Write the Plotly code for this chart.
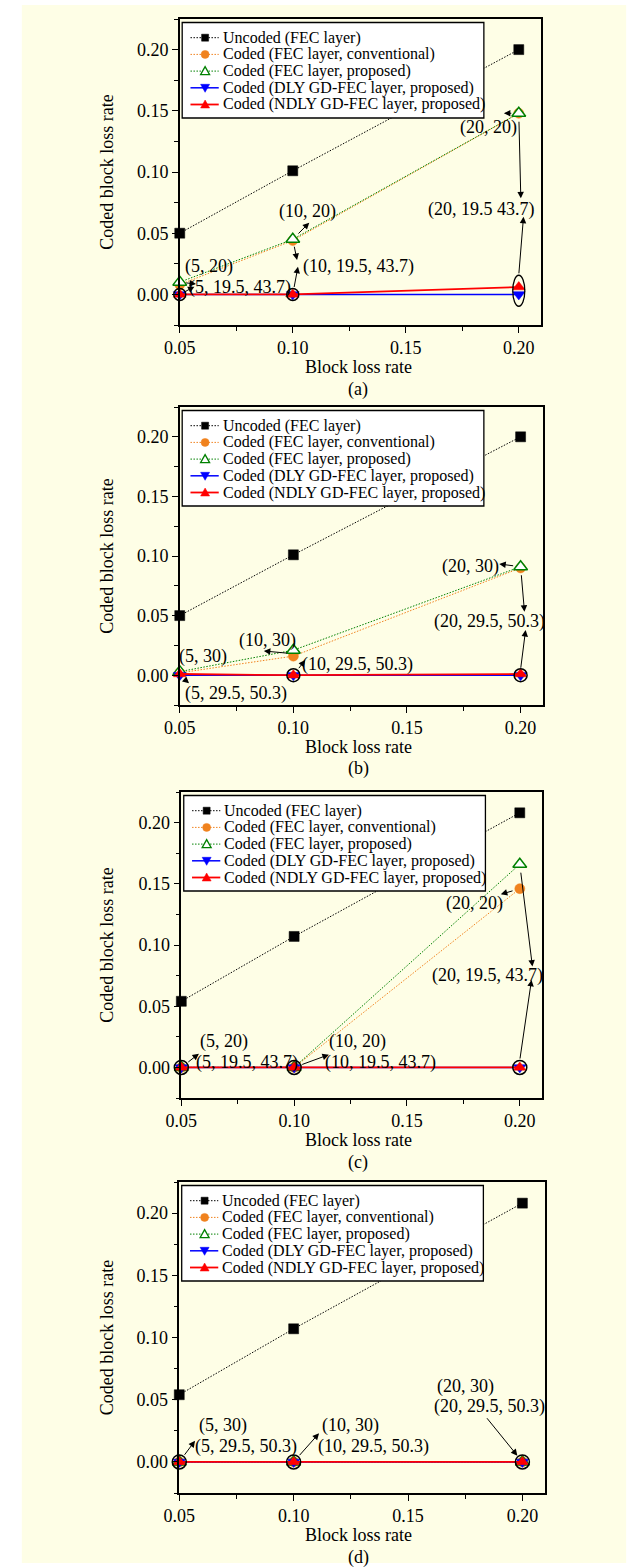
import plotly.graph_objects as go

W, H = 633, 1568
FONT = "Liberation Serif"

# ---------------- data ----------------
x_vals = [0.05, 0.10, 0.20]
series_names = [
    "Uncoded (FEC layer)",
    "Coded (FEC layer, conventional)",
    "Coded (FEC layer, proposed)",
    "Coded (DLY GD-FEC layer, proposed)",
    "Coded (NDLY GD-FEC layer, proposed)",
]
panel_labels = ["(a)", "(b)", "(c)", "(d)"]
x_title = "Block loss rate"
y_title = "Coded block loss rate"
x_ticks = [0.05, 0.10, 0.15, 0.20]
y_ticks = [0.00, 0.05, 0.10, 0.15, 0.20]

a_uncoded = [0.050, 0.101, 0.200]
a_conv = [0.008, 0.044, 0.148]
a_prop = [0.010, 0.045, 0.148]
a_dly = [0.0, 0.0, 0.0]
a_ndly = [0.0, 0.0, 0.006]

b_uncoded = [0.050, 0.101, 0.200]
b_conv = [0.002, 0.016, 0.090]
b_prop = [0.003, 0.021, 0.091]
b_dly = [0.0, 0.0, 0.0]
b_ndly = [0.001, 0.0, 0.001]

c_uncoded = [0.054, 0.107, 0.208]
c_conv = [0.0, 0.0, 0.146]
c_prop = [0.0, 0.0, 0.166]
c_dly = [0.0, 0.0, 0.0]
c_ndly = [0.0, 0.0, 0.0]

d_uncoded = [0.054, 0.107, 0.208]
d_conv = [0.0, 0.0, 0.0]
d_prop = [0.0, 0.0, 0.0]
d_dly = [0.0, 0.0, 0.0]
d_ndly = [0.0, 0.0, 0.0]

panel_series = [
    [a_uncoded, a_conv, a_prop, a_dly, a_ndly],
    [b_uncoded, b_conv, b_prop, b_dly, b_ndly],
    [c_uncoded, c_conv, c_prop, c_dly, c_ndly],
    [d_uncoded, d_conv, d_prop, d_dly, d_ndly],
]

# indices of points circled (on the GD-FEC curves)
circled_idx = [[0, 1], [1, 2], [0, 1, 2], [0, 1, 2]]

# text labels: (text, x, y) in data units
labels = [
    [("(20, 20)", 0.1865, 0.1362), ("(20, 19.5 43.7)", 0.1833, 0.0695),
     ("(10, 20)", 0.1065, 0.0676), ("(10, 19.5, 43.7)", 0.1292, 0.0226),
     ("(5, 20)", 0.0628, 0.0226), ("(5, 19.5, 43.7)", 0.0767, 0.0060)],
    [("(20, 30)", 0.1778, 0.0916), ("(20, 29.5, 50.3)", 0.1862, 0.0449),
     ("(10, 30)", 0.0886, 0.0295), ("(10, 29.5, 50.3)", 0.1281, 0.0094),
     ("(5, 30)", 0.0603, 0.0155), ("(5, 29.5, 50.3)", 0.0748, -0.0152)],
    [("(20, 20)", 0.1798, 0.1340), ("(20, 19.5, 43.7)", 0.1858, 0.0748),
     ("(10, 20)", 0.1279, 0.0213), ("(10, 19.5, 43.7)", 0.1383, 0.0036),
     ("(5, 20)", 0.0687, 0.0213), ("(5, 19.5, 43.7)", 0.0791, 0.0036)],
    [("(20, 30)", 0.1750, 0.0605), ("(20, 29.5, 50.3)", 0.1855, 0.0444),
     ("(10, 30)", 0.1248, 0.0296), ("(10, 29.5, 50.3)", 0.1350, 0.0127),
     ("(5, 30)", 0.0692, 0.0296), ("(5, 29.5, 50.3)", 0.0792, 0.0127)],
]

# arrows: (tail_x, tail_y, head_x, head_y, start_standoff, standoff)
arrows = [
    [(0.20, 0.148, 0.1934, 0.148, 6, 0), (0.20, 0.148, 0.2009, 0.0785, 7, 0),
     (0.20, 0.016, 0.2021, 0.0635, 0, 0), (0.10, 0.045, 0.1073, 0.0586, 6, 0),
     (0.10, 0.045, 0.1019, 0.0281, 6, 0), (0.10, 0.0, 0.1023, 0.0226, 6, 0),
     (0.05, 0.0, 0.0565, 0.0063, 4, 0), (0.05, 0.010, 0.0572, 0.0085, 5, 0)],
    [(0.20, 0.091, 0.1906, 0.0933, 6, 0), (0.20, 0.091, 0.2017, 0.0533, 7, 0),
     (0.20, 0.005, 0.2022, 0.0379, 0, 0), (0.10, 0.018, 0.0870, 0.0203, 5, 0),
     (0.10, 0.0, 0.1052, 0.0127, 7, 0), (0.05, 0.0, 0.0541, -0.0068, 5, 0)],
    [(0.20, 0.146, 0.1916, 0.1414, 6, 0), (0.20, 0.166, 0.2056, 0.0824, 7, 0),
     (0.20, 0.006, 0.2052, 0.0715, 0, 0), (0.10, 0.0, 0.1154, 0.0104, 7, 0),
     (0.05, 0.0, 0.0578, 0.0112, 7, 0)],
    [(0.1840, 0.0363, 0.20, 0.0, 0, 8), (0.10, 0.0, 0.1111, 0.0230, 7, 0),
     (0.05, 0.0, 0.0569, 0.0170, 7, 0)],
]

# ---------------- styling ----------------
colors = ["#000000", "#F0821E", "#008000", "#0000FF", "#FF0000"]
dashes = ["1.5px,1.5px", "1.5px,1.5px", "1.5px,1.5px", "solid", "solid"]
widths = [1, 1, 1, 1.5, 1.8]
symbols = ["square", "circle", "triangle-up", "triangle-down", "triangle-up"]
mfill = ["#000000", "#F0821E", "#FFFFFF", "#0000FF", "#FF0000"]
msizes = [10, 10, 12, 11, 11]
circle_sizes = [12, 13, 14, 14]

# panel plot-area geometry in pixels (left, right, top, bottom)
geom = [
    (168, 539, 19, 325),
    (168, 541, 407, 705),
    (169.6, 540, 792, 1098),
    (167.5, 543, 1182, 1493),
]
XR = [0.05, 0.21]
YR = [-0.025, 0.225]


def px(x):
    return x / W


def py(y):
    return 1 - y / H


fig = go.Figure()
shapes = []
annotations = []

# page background
shapes.append(dict(type="rect", xref="paper", yref="paper", x0=px(6), x1=px(626),
                   y0=py(1563), y1=py(5), fillcolor="#FEFEE6", line=dict(width=0),
                   layer="below"))

tickfont = dict(family=FONT, size=18, color="black")
txtcol = "#000000"

for i, (L, R, T, B) in enumerate(geom):
    n = i + 1
    xs = "" if n == 1 else str(n)
    xa, ya = "x" + xs, "y" + xs
    series = panel_series[i]
    for j in range(5):
        fig.add_trace(go.Scatter(
            x=x_vals, y=series[j], xaxis=xa, yaxis=ya, mode="lines+markers",
            name=series_names[j], showlegend=False, cliponaxis=False,
            line=dict(color=colors[j], width=widths[j], dash=dashes[j]),
            marker=dict(symbol=symbols[j], size=msizes[j], color=mfill[j],
                        line=dict(color=colors[j], width=1.5 if j == 2 else 0.5)),
        ))
    # circled highlight points
    cx = [x_vals[k] for k in circled_idx[i]]
    cy = [series[3][k] for k in circled_idx[i]]
    fig.add_trace(go.Scatter(
        x=cx, y=cy, xaxis=xa, yaxis=ya, mode="markers", showlegend=False,
        cliponaxis=False, hoverinfo="skip",
        marker=dict(symbol="circle-open", size=circle_sizes[i], color="black",
                    line=dict(color="black", width=1.5)),
    ))

    dom_x = [px(L), px(R)]
    dom_y = [py(B), py(T)]
    common = dict(showgrid=False, zeroline=False, linecolor="black", linewidth=1.5,
                  tickcolor="black", tickwidth=1.2, tickfont=tickfont)
    fig.layout["xaxis" + xs] = dict(
        domain=dom_x, range=XR, anchor=ya, showline=True, mirror=True,
        ticks="outside", ticklen=6, tickmode="array", tickvals=x_ticks,
        ticktext=["%.2f" % v for v in x_ticks],
        minor=dict(ticks="outside", ticklen=4, dtick=0.025, tick0=0, tickcolor="black"),
        **common)
    fig.layout["yaxis" + xs] = dict(
        domain=dom_y, range=YR, anchor=xa, showline=True, mirror=True,
        ticks="outside", ticklen=6, tickmode="array", tickvals=y_ticks,
        ticktext=["%.2f" % v for v in y_ticks],
        minor=dict(ticks="outside", ticklen=4, dtick=0.025, tick0=0, tickcolor="black"),
        **common)
    # overlay axes for inside ticks on top/right
    ox, oy = str(n + 4), str(n + 4)
    fig.layout["xaxis" + ox] = dict(
        domain=dom_x, range=XR, overlaying=xa, side="top", anchor=ya,
        showline=False, showticklabels=False, ticks="inside", ticklen=6,
        tickmode="array", tickvals=x_ticks, showgrid=False, zeroline=False,
        tickcolor="black", tickwidth=1.2,
        minor=dict(ticks="inside", ticklen=4, dtick=0.025, tick0=0, tickcolor="black"))
    fig.layout["yaxis" + oy] = dict(
        domain=dom_y, range=YR, overlaying=ya, side="right", anchor=xa,
        showline=False, showticklabels=False, ticks="inside", ticklen=6,
        tickmode="array", tickvals=y_ticks, showgrid=False, zeroline=False,
        tickcolor="black", tickwidth=1.2,
        minor=dict(ticks="inside", ticklen=4, dtick=0.025, tick0=0, tickcolor="black"))

    # tall ellipse in panel (a)
    if i == 0:
        shapes.append(dict(type="circle", xref=xa, yref=ya, xsizemode="pixel",
                           ysizemode="pixel", xanchor=x_vals[2],
                           yanchor=(series[3][2] + series[4][2]) / 2,
                           x0=-6, x1=6, y0=-15.5, y1=15.5,
                           line=dict(color="black", width=1.3)))

    # data labels
    for (t, lx, ly) in labels[i]:
        annotations.append(dict(text=t, x=lx, y=ly, xref=xa, yref=ya, showarrow=False,
                                xanchor="center", yanchor="middle",
                                font=dict(family=FONT, size=18, color=txtcol)))
    for (tx, ty, hx, hy, sso, so) in arrows[i]:
        annotations.append(dict(text="", x=hx, y=hy, ax=tx, ay=ty, xref=xa, yref=ya,
                                axref=xa, ayref=ya, showarrow=True, arrowhead=2,
                                arrowsize=1.3, arrowwidth=1, arrowcolor="black",
                                startstandoff=sso, standoff=so))

    # axis titles and panel label
    annotations.append(dict(text=y_title, x=px(93), y=py((T + B) / 2), xref="paper",
                            yref="paper", textangle=-90, showarrow=False,
                            xanchor="center", yanchor="middle",
                            font=dict(family=FONT, size=18, color=txtcol)))
    annotations.append(dict(text=x_title, x=px(351), y=py(B + 42), xref="paper",
                            yref="paper", showarrow=False, xanchor="center",
                            yanchor="middle", font=dict(family=FONT, size=18, color=txtcol)))
    annotations.append(dict(text=panel_labels[i], x=px(351), y=py(B + 64), xref="paper",
                            yref="paper", showarrow=False, xanchor="center",
                            yanchor="middle", font=dict(family=FONT, size=18, color=txtcol)))

    # custom legend box
    shapes.append(dict(type="rect", xref="paper", yref="paper", x0=px(L + 2.5),
                       x1=px(L + 312), y0=py(T + 99), y1=py(T + 3.5),
                       fillcolor="white", line=dict(color="black", width=1.3),
                       layer="above"))
    for j in range(5):
        ry = T + 18.7 + j * 16.7
        shapes.append(dict(type="line", xref="paper", yref="paper", x0=px(L + 11),
                           x1=px(L + 40), y0=py(ry), y1=py(ry),
                           line=dict(color=colors[j], width=widths[j],
                                     dash=dashes[j]), layer="above"))
        base = dict(xref="paper", yref="paper", xsizemode="pixel", ysizemode="pixel",
                    xanchor=px(L + 26), yanchor=py(ry), layer="above")
        if j == 0:
            shapes.append(dict(type="rect", x0=-3.5, x1=3.5, y0=-3.5, y1=3.5,
                               fillcolor=colors[j], line=dict(color=colors[j], width=0.5), **base))
        elif j == 1:
            shapes.append(dict(type="circle", x0=-4, x1=4, y0=-4, y1=4,
                               fillcolor=colors[j], line=dict(color=colors[j], width=0.5), **base))
        elif j == 2:
            shapes.append(dict(type="path", path="M-4.5,-3.5 L4.5,-3.5 L0,4.5 Z",
                               fillcolor="white", line=dict(color=colors[j], width=1.3), **base))
        elif j == 3:
            shapes.append(dict(type="path", path="M-4.5,3.5 L4.5,3.5 L0,-4.5 Z",
                               fillcolor=colors[j], line=dict(color=colors[j], width=0.5), **base))
        else:
            shapes.append(dict(type="path", path="M-4.5,-3.5 L4.5,-3.5 L0,4.5 Z",
                               fillcolor=colors[j], line=dict(color=colors[j], width=0.5), **base))
        annotations.append(dict(text=series_names[j], x=px(L + 42), y=py(ry), xref="paper",
                                yref="paper", showarrow=False, xanchor="left",
                                yanchor="middle", font=dict(family=FONT, size=16, color=txtcol)))

fig.update_layout(
    width=W, height=H, margin=dict(l=0, r=0, t=0, b=0),
    paper_bgcolor="white", plot_bgcolor="white",
    shapes=shapes, annotations=annotations, showlegend=False,
    font=dict(family=FONT, size=18, color="black"),
)

fig.write_html("out.html", config={"displayModeBar": False},
               post_script="document.body.style.margin='0';document.body.style.overflow='hidden';")
